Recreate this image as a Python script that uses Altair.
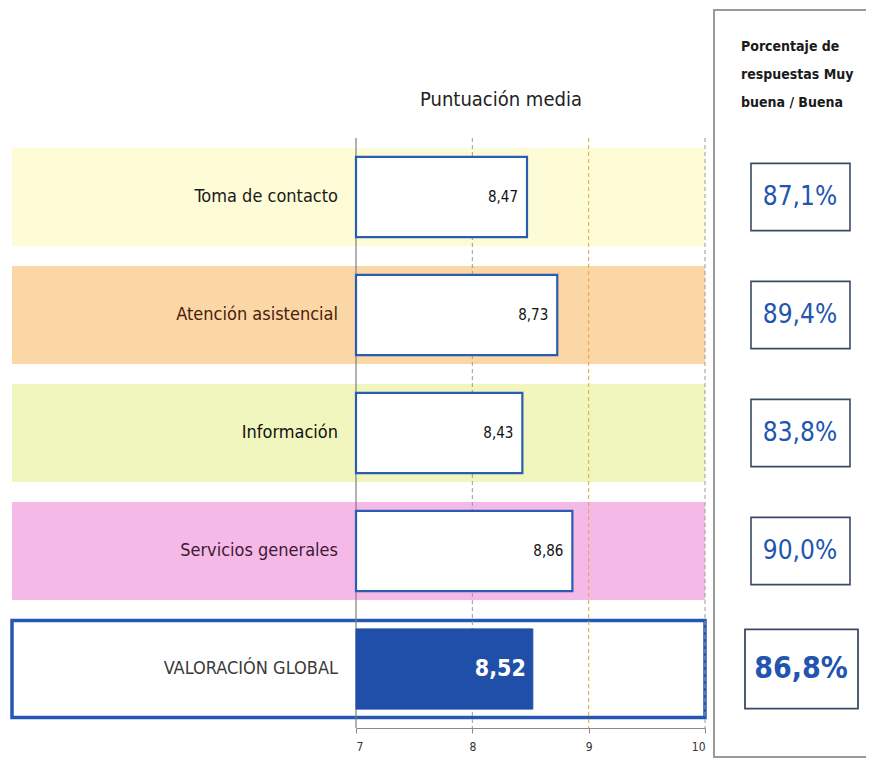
import altair as alt
import pandas as pd

# ---------------- data ----------------
categories = ["Toma de contacto", "Atención asistencial", "Información",
              "Servicios generales", "VALORACIÓN GLOBAL"]
scores = [8.47, 8.73, 8.43, 8.86, 8.52]
pct_good = [87.1, 89.4, 83.8, 90.0, 86.8]
x_ticks = [7, 8, 9, 10]
title_text = "Puntuación media"
header_lines = ["Porcentaje de", "respuestas Muy", "buena / Buena"]

# ---------------- styles ----------------
band_colors = ["#fdfcd7", "#fad7a5", "#f0f6be", "#f5b9e8", "#ffffff"]
label_colors = ["#1a1a1a", "#4a200a", "#111111", "#3d1a33", "#3a3a3a"]
BLUE = "#2a5db0"
DARK_BLUE = "#1f4fa8"
PCT_BLUE = "#2155b0"
FONT = "DejaVu Sans Condensed, DejaVu Sans, sans-serif"

df = pd.DataFrame({"cat": categories, "score": scores, "pct": pct_good})
df["start"] = x_ticks[0]
df["is_global"] = [False, False, False, False, True]

W, H = 858, 590
xscale = alt.Scale(domain=[x_ticks[0], x_ticks[-1]], range=[348, 697], nice=False, zero=False)
yscale = alt.Scale(domain=categories, paddingInner=0, paddingOuter=0)

base = alt.Chart(df)
y_plain = alt.Y("cat:N", scale=yscale, sort=categories, axis=None)

# right-hand panel
panel = alt.Chart(pd.DataFrame({"k": [0]})).mark_rect(
    fill="white", stroke="#9a9a9a", strokeWidth=2
).encode(x=alt.value(706), x2=alt.value(880), y=alt.value(-128), y2=alt.value(619))

# background bands
bands = base.transform_filter("!datum.is_global").mark_bar(
    height=alt.RelativeBandSize(0.83)
).encode(
    x=alt.value(4), x2=alt.value(697), y=y_plain,
    fill=alt.Fill("cat:N", scale=alt.Scale(domain=categories, range=band_colors), legend=None),
)
global_band = base.transform_filter("datum.is_global").mark_bar(
    height=alt.RelativeBandSize(0.82), fill="white", stroke="#2458b3", strokeWidth=3.5
).encode(x=alt.value(4), x2=alt.value(697), y=y_plain)

# grid lines
grid_df = pd.DataFrame({"v": x_ticks})
base_line = alt.Chart(grid_df).transform_filter("datum.v == 7").mark_rule(
    strokeWidth=1.2, color="#7f7f7f"
).encode(x=alt.X("v:Q", scale=xscale))
grid_gray = alt.Chart(grid_df).transform_filter("datum.v == 8 || datum.v == 10").mark_rule(
    strokeDash=[4, 3], strokeWidth=1, color="#9a9a9a"
).encode(x=alt.X("v:Q", scale=xscale))
grid_orange = alt.Chart(grid_df).transform_filter("datum.v == 9").mark_rule(
    strokeDash=[4, 3], strokeWidth=1, color="#e8a33c"
).encode(x=alt.X("v:Q", scale=xscale))

# bars
bars = base.transform_filter("!datum.is_global").mark_bar(
    height=alt.RelativeBandSize(0.68), fill="white", stroke=BLUE, strokeWidth=2.2
).encode(
    x=alt.X("start:Q", scale=xscale,
            axis=alt.Axis(values=x_ticks, format="d", title=None, grid=False, labelFont=FONT,
                          labelFontSize=12, labelColor="#333333", domainColor="#8a8a8a",
                          tickColor="#8a8a8a", tickSize=5, labelPadding=8)),
    x2="score:Q", y=y_plain,
)
global_bar = base.transform_filter("datum.is_global").mark_bar(
    height=alt.RelativeBandSize(0.68), fill=DARK_BLUE, stroke=DARK_BLUE, strokeWidth=1
).encode(x=alt.X("start:Q", scale=xscale), x2="score:Q", y=y_plain)

lab_expr = "replace(format(datum.score, '.2f'), '.', ',')"
val_text = base.transform_filter("!datum.is_global").transform_calculate(
    lab=lab_expr
).mark_text(align="right", dx=-9, font=FONT, fontSize=15, color="#111111").encode(
    x=alt.X("score:Q", scale=xscale), y=y_plain, text="lab:N"
)
global_val_text = base.transform_filter("datum.is_global").transform_calculate(
    lab=lab_expr
).mark_text(align="right", dx=-7, font=FONT, fontSize=23, fontWeight="bold", color="white").encode(
    x=alt.X("score:Q", scale=xscale), y=y_plain, text="lab:N"
)

# category labels
cat_text = base.mark_text(align="right", font=FONT, fontSize=18).encode(
    x=alt.value(330), y=y_plain, text="cat:N",
    color=alt.Color("cat:N", scale=alt.Scale(domain=categories, range=label_colors), legend=None),
)

# percentage boxes
pct_box = base.transform_filter("!datum.is_global").mark_bar(
    height=alt.RelativeBandSize(0.57), fill="white", stroke="#3c4a66", strokeWidth=1.6
).encode(x=alt.value(743), x2=alt.value(842), y=y_plain)
global_pct_box = base.transform_filter("datum.is_global").mark_bar(
    height=alt.RelativeBandSize(0.67), fill="white", stroke="#3c4a66", strokeWidth=1.8
).encode(x=alt.value(737), x2=alt.value(850), y=y_plain)

pct_expr = "replace(format(datum.pct, '.1f'), '.', ',') + '%'"
pct_text = base.transform_filter("!datum.is_global").transform_calculate(
    lab=pct_expr
).mark_text(align="center", font=FONT, fontSize=26, color=PCT_BLUE).encode(
    x=alt.value(792), y=y_plain, text="lab:N"
)
global_pct_text = base.transform_filter("datum.is_global").transform_calculate(
    lab=pct_expr
).mark_text(align="center", font=FONT, fontSize=30, fontWeight="bold", color=PCT_BLUE).encode(
    x=alt.value(793), y=y_plain, text="lab:N"
)

# titles
title = alt.Chart(pd.DataFrame({"t": [title_text]})).mark_text(
    align="center", baseline="middle", font=FONT, fontSize=20, color="#222222"
).encode(x=alt.value(493), y=alt.value(-38), text="t:N")

header = alt.Chart(pd.DataFrame({"k": [0]})).mark_text(
    align="left", baseline="middle", font=FONT, fontSize=14, fontWeight="bold",
    color="#1a1a1a", lineHeight=28
).encode(x=alt.value(733), y=alt.value(-91), text=alt.value(header_lines))

chart = alt.layer(
    panel, bands, global_band, base_line, grid_gray, grid_orange, bars, global_bar, val_text,
    global_val_text, cat_text, pct_box, global_pct_box, pct_text, global_pct_text,
    title, header
).properties(
    width=W, height=H, background="white",
    autosize=alt.AutoSizeParams(type="none"),
    padding={"left": 0, "top": 130, "right": 0, "bottom": 30},
).configure_view(strokeOpacity=0, stroke="transparent").configure_axis(grid=False)

chart.save("out.html", embed_options={"renderer": "svg", "actions": False})
